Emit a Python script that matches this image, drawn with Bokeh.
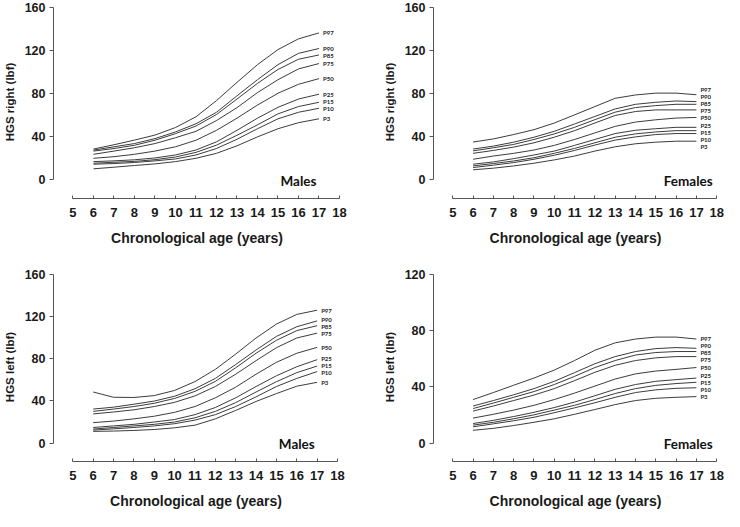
from bokeh.plotting import figure
from bokeh.models import Range1d, FixedTicker
from bokeh.layouts import column, row
from bokeh.embed import file_html
from bokeh.resources import INLINE
from bokeh.core.properties import value

# ---------------- data ----------------
ages = [6, 7, 8, 9, 10, 11, 12, 13, 14, 15, 16, 17]
percentiles = ["P97", "P90", "P85", "P75", "P50", "P25", "P15", "P10", "P3"]
x_ticks = [5, 6, 7, 8, 9, 10, 11, 12, 13, 14, 15, 16, 17, 18]
y_ticks_160 = [0, 40, 80, 120, 160]
y_ticks_120 = [0, 40, 80, 120]

males_right = {
    "P97": [28.5, 32.5, 36.8, 41.5, 48.5, 58.5, 73.5, 90.5, 107.0, 121.0, 131.0, 136.5],
    "P90": [27.5, 30.6, 33.6, 38.2, 44.4, 52.0, 62.7, 78.0, 93.0, 107.0, 117.5, 122.0],
    "P85": [26.6, 29.0, 32.0, 36.7, 42.8, 49.9, 60.6, 75.0, 89.6, 102.5, 112.0, 116.0],
    "P75": [23.6, 26.6, 29.7, 33.6, 39.0, 45.0, 55.0, 67.0, 81.0, 93.0, 103.0, 108.0],
    "P50": [19.9, 21.4, 23.6, 26.6, 30.6, 36.7, 45.9, 57.2, 69.4, 80.4, 88.7, 94.0],
    "P25": [16.8, 17.5, 18.5, 20.2, 23.0, 27.6, 35.2, 45.9, 57.2, 67.3, 75.0, 79.5],
    "P15": [15.3, 16.2, 17.0, 18.6, 21.1, 25.4, 32.1, 41.3, 51.0, 61.2, 68.0, 72.0],
    "P10": [14.4, 15.0, 16.0, 17.5, 19.3, 23.0, 29.0, 37.6, 47.4, 56.6, 62.7, 66.4],
    "P3":  [10.1, 11.6, 13.2, 14.7, 16.8, 19.9, 24.5, 31.5, 39.8, 47.4, 53.0, 56.6],
}
females_right = {
    "P97": [35.0, 37.9, 42.0, 46.5, 52.7, 60.3, 68.0, 75.7, 78.8, 80.5, 80.5, 79.0],
    "P90": [28.5, 31.2, 34.9, 39.5, 45.0, 51.8, 58.8, 65.8, 70.1, 72.0, 73.2, 72.6],
    "P85": [26.8, 29.7, 32.8, 37.4, 42.6, 48.7, 55.8, 62.8, 67.1, 68.9, 70.1, 70.1],
    "P75": [24.5, 27.2, 30.3, 34.3, 39.5, 45.6, 52.7, 59.7, 63.4, 64.9, 64.9, 64.9],
    "P50": [19.0, 22.0, 24.5, 27.6, 31.9, 37.4, 43.5, 49.6, 53.6, 55.7, 57.3, 57.9],
    "P25": [14.4, 16.5, 19.6, 23.0, 26.6, 31.9, 37.4, 42.9, 46.0, 47.4, 48.7, 48.7],
    "P15": [12.8, 15.0, 17.4, 20.4, 24.5, 29.1, 34.3, 39.5, 42.6, 44.4, 45.6, 45.6],
    "P10": [11.3, 13.5, 15.9, 19.0, 22.7, 27.2, 32.2, 36.8, 39.8, 42.0, 42.9, 42.9],
    "P3":  [9.2, 10.7, 12.8, 15.3, 18.4, 22.0, 26.6, 30.6, 33.4, 34.9, 35.8, 35.8],
}
males_left = {
    "P97": [48.5, 43.5, 43.3, 45.1, 50.0, 58.4, 70.0, 84.5, 99.8, 113.0, 122.2, 126.2],
    "P90": [32.3, 34.1, 36.9, 39.9, 44.5, 51.6, 61.4, 74.6, 88.4, 101.3, 110.5, 116.0],
    "P85": [30.1, 32.3, 34.7, 37.8, 42.4, 49.1, 58.6, 71.5, 85.3, 97.6, 106.8, 111.5],
    "P75": [27.7, 29.5, 31.6, 34.7, 38.7, 44.8, 53.7, 65.4, 78.3, 90.6, 99.8, 104.4],
    "P50": [19.4, 20.9, 23.0, 25.5, 29.2, 34.7, 43.0, 53.1, 65.4, 76.7, 85.3, 90.9],
    "P25": [14.8, 16.3, 17.8, 20.0, 22.4, 27.0, 33.8, 43.0, 53.7, 63.9, 72.5, 79.2],
    "P15": [13.3, 14.8, 16.3, 17.8, 20.0, 24.0, 30.1, 38.4, 48.5, 58.3, 66.9, 73.1],
    "P10": [12.3, 13.5, 14.8, 16.3, 18.4, 21.8, 27.0, 34.7, 43.9, 53.7, 61.4, 67.9],
    "P3":  [11.1, 11.4, 12.0, 12.9, 14.5, 17.0, 23.0, 31.0, 39.5, 47.0, 54.0, 57.7],
}
females_left = {
    "P97": [31.0, 36.0, 41.2, 46.3, 52.0, 58.8, 66.1, 71.4, 74.1, 75.5, 75.5, 74.1],
    "P90": [26.4, 30.3, 34.4, 38.8, 44.0, 50.2, 56.5, 61.6, 65.2, 67.3, 68.0, 67.5],
    "P85": [24.6, 28.5, 32.6, 36.7, 41.7, 47.5, 53.8, 58.8, 62.7, 64.5, 65.2, 65.2],
    "P75": [22.8, 26.4, 30.3, 34.2, 38.8, 44.5, 50.4, 55.4, 58.8, 60.7, 61.6, 61.6],
    "P50": [17.8, 20.5, 23.5, 26.9, 31.0, 35.6, 40.6, 45.6, 49.3, 51.3, 52.5, 53.8],
    "P25": [13.9, 16.2, 18.9, 21.9, 25.3, 29.2, 33.7, 38.3, 41.7, 44.0, 45.2, 46.3],
    "P15": [12.8, 14.8, 17.3, 20.1, 23.5, 26.9, 31.0, 35.3, 38.8, 41.1, 42.4, 43.3],
    "P10": [11.6, 13.7, 15.9, 18.4, 21.6, 25.1, 28.7, 32.6, 36.0, 37.9, 39.0, 39.4],
    "P3":  [9.1, 10.5, 12.5, 14.8, 17.3, 20.5, 23.9, 27.4, 30.3, 31.9, 32.6, 33.1],
}

# ---------------- styling ----------------
AXIS_FONT = "Liberation Sans"
TAG_FONT = "Lato"
LINE_COLOR = "#3c3c3c"
AXIS_COLOR = "#555555"
TEXT_COLOR = "#1a1a1a"


def spread_labels(ends, px_per_unit, gap_px=7.2):
    """Keep end-of-curve labels from overlapping (relaxation in data units)."""
    gap = gap_px / px_per_unit
    ys = list(ends)
    for _ in range(400):
        moved = False
        for i in range(len(ys) - 1):
            d = ys[i] - ys[i + 1]
            if d < gap - 1e-9:
                push = (gap - d) / 2.0
                ys[i] += push
                ys[i + 1] -= push
                moved = True
        if not moved:
            break
    return ys


def make_panel(data, ylabel, tag, tag_x, ymax, yticks, width, height,
               bl, br, bt, frame_h, x_end):
    scale = ymax / 160.0
    y0, y1 = -17.5 * scale, 162.0 * scale
    bb = height - bt - frame_h
    p = figure(width=width, height=height, output_backend="svg",
               toolbar_location=None,
               x_range=Range1d(4.05, x_end), y_range=Range1d(y0, y1),
               min_border_left=bl, min_border_right=br,
               min_border_top=bt, min_border_bottom=bb)
    p.xgrid.visible = False
    p.ygrid.visible = False
    p.outline_line_color = None
    p.background_fill_color = "white"
    p.border_fill_color = "white"

    xa = p.xaxis[0]
    xa.bounds = (5, 18)
    xa.ticker = FixedTicker(ticks=x_ticks)
    xa.major_tick_in = 3
    xa.major_tick_out = 0
    xa.minor_tick_in = 0
    xa.minor_tick_out = 0
    xa.axis_line_color = AXIS_COLOR
    xa.major_tick_line_color = AXIS_COLOR
    xa.major_label_text_font = AXIS_FONT
    xa.major_label_text_font_style = "bold"
    xa.major_label_text_font_size = "13px"
    xa.major_label_text_color = TEXT_COLOR
    xa.major_label_standoff = 9
    xa.axis_label = "Chronological age (years)"
    xa.axis_label_text_font = AXIS_FONT
    xa.axis_label_text_font_style = "bold"
    xa.axis_label_text_font_size = "14px"
    xa.axis_label_text_color = TEXT_COLOR
    xa.axis_label_standoff = 10

    ya = p.yaxis[0]
    ya.bounds = (0, ymax)
    ya.ticker = FixedTicker(ticks=yticks)
    ya.major_tick_in = 0
    ya.major_tick_out = 4
    ya.minor_tick_in = 0
    ya.minor_tick_out = 0
    ya.axis_line_color = AXIS_COLOR
    ya.major_tick_line_color = AXIS_COLOR
    ya.major_label_text_font = AXIS_FONT
    ya.major_label_text_font_style = "bold"
    ya.major_label_text_font_size = "12.5px"
    ya.major_label_text_color = TEXT_COLOR
    ya.major_label_standoff = 4
    ya.axis_label = ylabel
    ya.axis_label_text_font = AXIS_FONT
    ya.axis_label_text_font_style = "bold"
    ya.axis_label_text_font_size = "11.5px"
    ya.axis_label_text_color = TEXT_COLOR
    ya.axis_label_standoff = 6

    series = [data[k] for k in percentiles]
    p.multi_line(xs=[ages] * len(series), ys=series,
                 line_color=LINE_COLOR, line_width=1)

    px_per_unit = frame_h / (y1 - y0)
    label_y = spread_labels([s[-1] for s in series], px_per_unit)
    p.text(x=[ages[-1]] * len(series), y=label_y, text=percentiles,
           x_offset=4, text_font=value(TAG_FONT), text_font_style="bold",
           text_font_size="6px", text_baseline="middle", text_align="left",
           text_color="#222222")

    p.text(x=[tag_x], y=[-1.3 * scale], text=[tag],
           text_font=value(TAG_FONT), text_font_style="bold",
           text_font_size="13.5px", text_align="center",
           text_baseline="middle", text_color="#111111")
    return p


# column 1: canvas 0..365 ; column 2: canvas 365..724
# row 1: canvas 0..267 ; row 2: canvas 267..511
p1 = make_panel(males_right, "HGS right (lbf)", "Males", 16.0, 160, y_ticks_160,
                365, 267, 53, 25, 5, 193, 18.05)
p2 = make_panel(females_right, "HGS right (lbf)", "Females", 16.6, 160, y_ticks_160,
                359, 267, 68, 7, 5, 193, 18.04)
p3 = make_panel(males_left, "HGS left (lbf)", "Males", 16.0, 160, y_ticks_160,
                365, 244, 51, 27, 5, 190, 18.05)
p4 = make_panel(females_left, "HGS left (lbf)", "Females", 16.6, 120, y_ticks_120,
                359, 244, 68, 7, 5, 190, 18.04)

layout = column(row(p1, p2), row(p3, p4))
open("out.html", "w").write(file_html(layout, INLINE))
